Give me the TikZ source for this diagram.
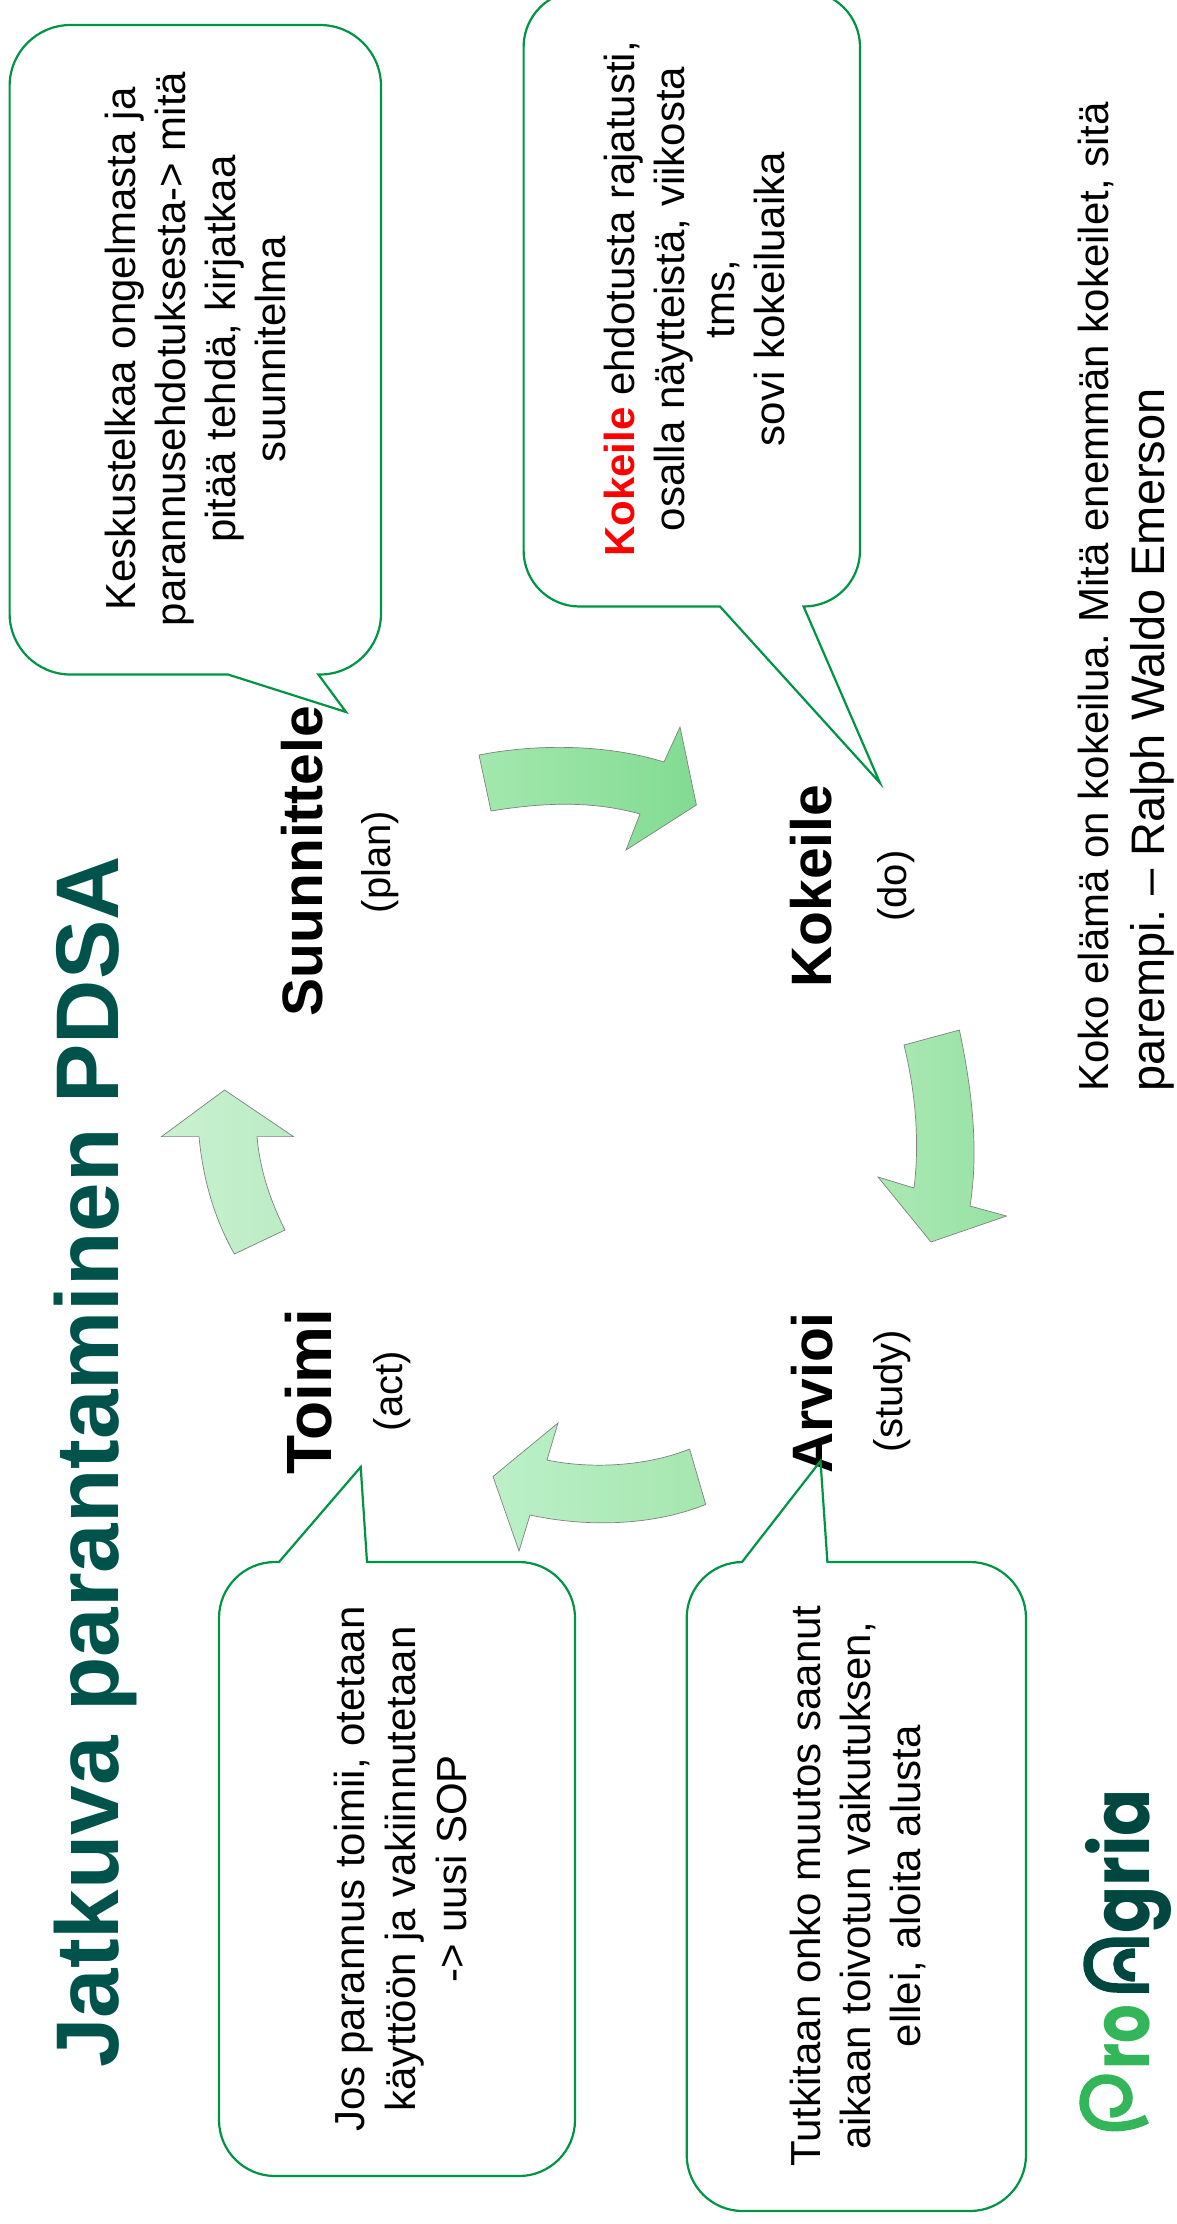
\documentclass[tikz,border=0pt]{standalone}
\usepackage{fontspec}
\setmainfont{Liberation Sans}
\newfontfamily\logofont{Poppins}
\frenchspacing
\definecolor{calloutgreen}{HTML}{009444}
\definecolor{titlegreen}{HTML}{00534A}
\definecolor{logolight}{HTML}{33B559}
\definecolor{logodark}{HTML}{00483F}
\tikzset{
  callout/.style={draw=calloutgreen, line width=2.2pt, line join=miter},
  cyclearrow/.style={draw=black!50, line width=0.7pt},
  bodytext/.style={rotate=90, inner sep=0pt, align=center, font=\fontsize{42}{50}\selectfont},
  phasename/.style={rotate=90, inner sep=0pt, anchor=base, font=\fontsize{57}{60}\selectfont\bfseries},
  phasenote/.style={rotate=90, inner sep=0pt, anchor=base, font=\fontsize{40}{44}\selectfont},
  logoword/.style={rotate=90, inner sep=0pt, anchor=base west, font=\fontsize{80}{80}\logofont\bfseries\selectfont},
  logostroke/.style={line width=9.5pt, line cap=butt}
}
\begin{document}
\begin{tikzpicture}[x=1pt,y=-1pt]
\useasboundingbox (0,0) rectangle (1177,2224);

% Title
\node[rotate=90, inner sep=0pt, anchor=base, text=titlegreen, font=\fontsize{89}{90}\selectfont\bfseries]
  (title) at (118,1462) {Jatkuva parantaminen PDSA};

% Phase names
\node[phasename] (plan) at (322,861) {Suunnittele};
\node[phasenote] (plannote) at (390,862) {(plan)};
\node[phasename] (do) at (831,886) {Kokeile};
\node[phasenote] (donote) at (906,886) {(do)};
\node[phasename] (study) at (832,1393) {Arvioi};
\node[phasenote] (studynote) at (902,1391) {(study)};
\node[phasename, font=\fontsize{64}{66}\selectfont\bfseries] (act) at (331,1392) {Toimi};
\node[phasenote] (actnote) at (402,1391) {(act)};

% Cycle arrows
\draw[cyclearrow, left color={rgb,255:red,163;green,232;blue,174}, right color={rgb,255:red,130;green,219;blue,146}]
  (479,755) .. controls (540,743) and (610,745) .. (664,762) -- (680,727) -- (696.4,805) -- (626,850)
  -- (640,814) .. controls (590,800) and (540,803) .. (491,811) -- cycle;
\draw[cyclearrow, left color={rgb,255:red,172;green,232;blue,180}, right color={rgb,255:red,150;green,226;blue,164}]
  (904,1045) .. controls (915,1090) and (920,1140) .. (914,1188) -- (878,1177) -- (931,1242) -- (1006.5,1216)
  -- (970,1206) .. controls (979,1150) and (972,1090) .. (959.4,1030) -- cycle;
\draw[cyclearrow, left color={rgb,255:red,188;green,240;blue,200}, right color={rgb,255:red,165;green,230;blue,175}]
  (689.6,1449) .. controls (650,1465) and (595,1470) .. (547,1460) -- (558,1423) -- (493,1476.5) -- (519,1551)
  -- (530,1515) .. controls (590,1528) and (655,1525) .. (705.7,1504.4) -- cycle;
\draw[cyclearrow, left color={rgb,255:red,202;green,241;blue,208}, right color={rgb,255:red,186;green,236;blue,196}]
  (285,1230) .. controls (270,1200) and (260,1170) .. (257,1136.6) -- (293.5,1136.6) -- (224.6,1090)
  -- (161.5,1136.6) -- (199,1136.6) .. controls (203,1180) and (215,1220) .. (234.4,1254) -- cycle;

% Plan callout
\draw[callout] (9.6,400) [rounded corners=61pt] -- (9.6,25) -- (381,25) -- (381,674.5) [sharp corners]
  -- (318.4,674.5) -- (346,712) -- (228,674.5) [rounded corners=61pt] -- (9.6,674.5) -- cycle;
\node[bodytext] (plantext) at (195,349) {Keskustelkaa ongelmasta ja\\parannusehdotuksesta-> mitä\\pitää tehdä, kirjatkaa\\suunnitelma};

% Do callout
\draw[callout] (523.6,300) [rounded corners=56pt] -- (523.6,-9) -- (860,-9) -- (860,606.5) [sharp corners]
  -- (803.6,606.5) -- (880,783) -- (720,606.5) [rounded corners=56pt] -- (523.6,606.5) -- cycle;
\node[bodytext] (dotext) at (694,299) {\textcolor{red}{\textbf{Kokeile}} ehdotusta rajatusti,\\osalla näytteistä, viikosta\\tms,\\sovi kokeiluaika};

% Study callout
\draw[callout] (686.7,1900) [rounded corners=56pt] -- (686.7,1562) [sharp corners] -- (742,1562) -- (820.5,1461)
  -- (827.4,1562) [rounded corners=56pt] -- (1026,1562) -- (1026,2211) -- (686.7,2211) -- cycle;
\node[bodytext] (studytext) at (858,1886) {Tutkitaan onko muutos saanut\\aikaan toivotun vaikutuksen,\\ellei, aloita alusta};

% Act callout
\draw[callout] (219,1900) [rounded corners=56pt] -- (219,1562) [sharp corners] -- (279,1562) -- (360.7,1467)
  -- (367,1562) [rounded corners=56pt] -- (575,1562) -- (575,2176) -- (219,2176) -- cycle;
\node[bodytext, font=\fontsize{42}{51}\selectfont] (acttext) at (400,1869) {Jos parannus toimii, otetaan\\käyttöön ja vakiinnutetaan\\-> uusi SOP};

% Quote
\node[rotate=90, inner sep=0pt, anchor=west, align=left, font=\fontsize{42}{56}\selectfont]
  (quote) at (1126,1092) {Koko elämä on kokeilua. Mitä enemmän kokeilet,  sitä\\{\fontsize{47}{56}\selectfont parempi. -- Ralph Waldo Emerson}};

% Logo
\draw[logostroke, draw=logolight] (1147,2119) .. controls (1130,2128) and (1105,2129) .. (1095,2122)
  .. controls (1088,2117) and (1084,2110) .. (1084,2103) .. controls (1084,2088) and (1094,2079) .. (1106,2079)
  .. controls (1120,2079) and (1128,2088) .. (1128,2098) .. controls (1128,2107) and (1120,2113) .. (1110,2113);
\draw[logostroke, draw=logodark] (1149,1988) -- (1118,1988) .. controls (1098,1988) and (1088,1978) .. (1088,1964)
  .. controls (1088,1950) and (1098,1942) .. (1118,1942) -- (1149,1942);
\draw[logostroke, draw=logodark] (1135,1977) .. controls (1124,1977) and (1118,1971) .. (1118,1964)
  .. controls (1118,1957) and (1124,1953) .. (1135,1953);
\node[logoword, xscale=.76, text=logolight] (logopro) at (1149,2070) {ro};
\node[logoword, xscale=.87, text=logodark] (logoagria) at (1149,1934) {gria};

\end{tikzpicture}
\end{document}
